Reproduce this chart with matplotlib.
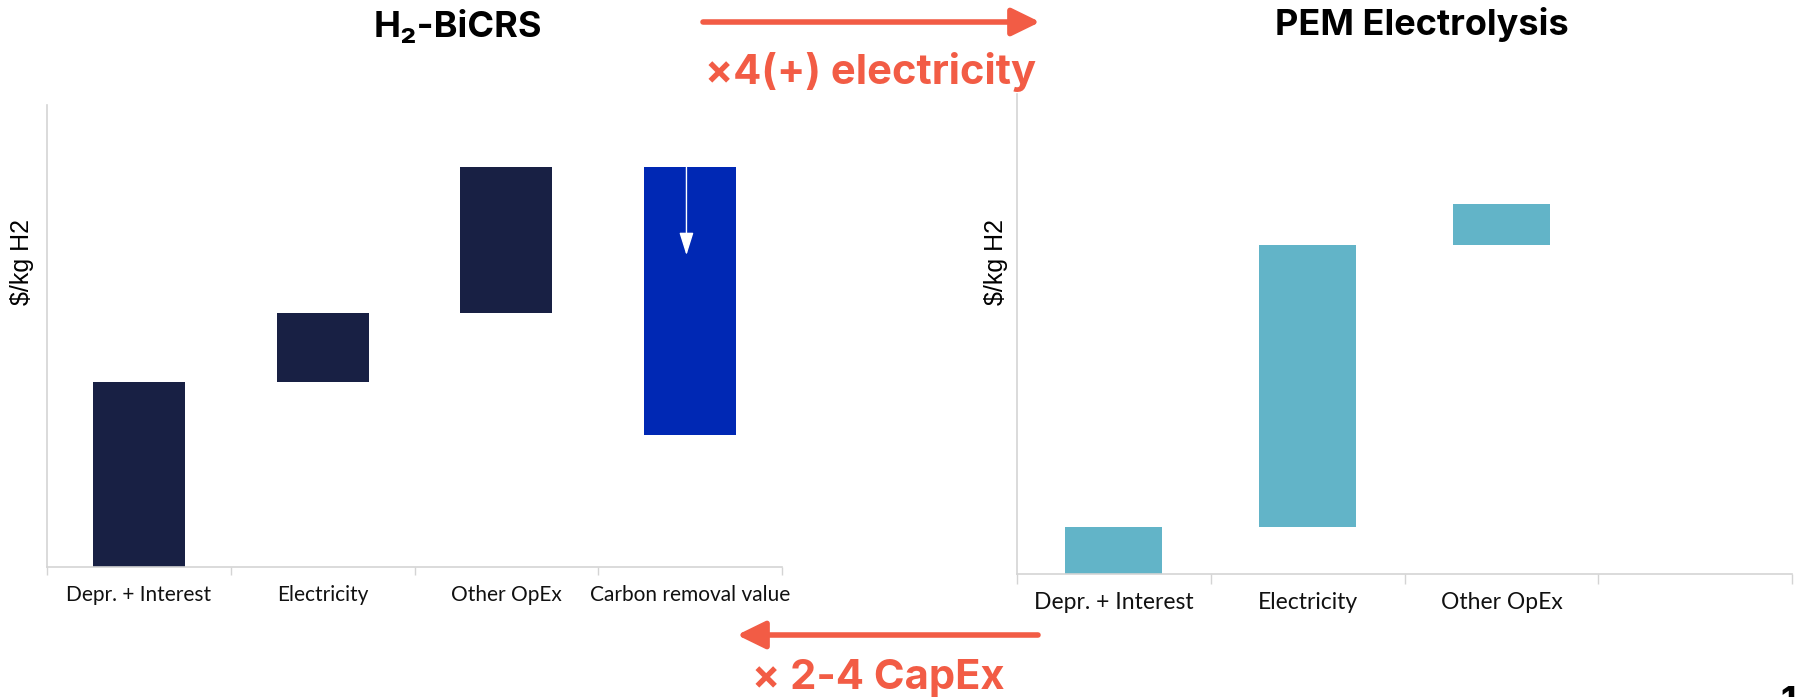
import matplotlib
matplotlib.use("Agg")
import matplotlib.pyplot as plt
import numpy as np

# H2-BiCRS cost build-up (arbitrary $/kg H2 units, axis 0-10)
bicrs_cats = ["Depr. + Interest", "Electricity", "Other OpEx"]
bicrs_vals = [4.0, 1.5, 3.15]
carbon_label = "Carbon removal value"
carbon_val = 5.8
arrow_tip = 6.75

# PEM electrolysis cost build-up
pem_cats = ["Depr. + Interest", "Electricity", "Other OpEx"]
pem_vals = [0.98, 5.88, 0.85]

ylabel = "$/kg H2"
navy = "#182044"
blue = "#0028B4"
teal = "#62B4C8"
red = "#F25C45"
grid_grey = "#D4D4D4"

W, H = 1801, 697
fig = plt.figure(figsize=(W / 100, H / 100), dpi=100)


def rect(x0, y_top, x1, y_bot):
    return [x0 / W, 1 - y_bot / H, (x1 - x0) / W, (y_bot - y_top) / H]


def style_axes(ax, labels, n_slots, fs, tick_len):
    ax.set_xlim(-0.5, n_slots - 0.5)
    ax.set_ylim(0, 10)
    for s in ["top", "right"]:
        ax.spines[s].set_visible(False)
    for s in ["left", "bottom"]:
        ax.spines[s].set_color(grid_grey)
        ax.spines[s].set_linewidth(1.2)
    ax.set_yticks([])
    ax.set_xticks(range(len(labels)))
    ax.set_xticklabels(labels, fontsize=fs, family=["Lato", "DejaVu Sans"], color="#111111")
    ax.tick_params(axis="x", which="major", length=0, pad=13)
    ax.set_xticks(np.arange(-0.5, n_slots), minor=True)
    ax.tick_params(axis="x", which="minor", length=tick_len, width=1.0, color=grid_grey)


# left: H2-BiCRS waterfall
ax1 = fig.add_axes(rect(47, 105, 782, 567))
bottoms = np.concatenate([[0], np.cumsum(bicrs_vals)[:-1]])
ax1.bar(range(len(bicrs_vals)), bicrs_vals, bottom=bottoms, width=0.5, color=navy)
total = sum(bicrs_vals)
ax1.bar(len(bicrs_vals), carbon_val, bottom=total - carbon_val, width=0.5, color=blue)
ax1.annotate("", xy=(len(bicrs_vals) - 0.02, arrow_tip), xytext=(len(bicrs_vals) - 0.02, total),
             arrowprops=dict(arrowstyle="-|>,head_length=0.7,head_width=0.22", color="white",
                             lw=1.0, mutation_scale=20, shrinkA=0, shrinkB=0))
style_axes(ax1, bicrs_cats + [carbon_label], 4, 15, 6)
ax1.set_ylabel(ylabel, fontsize=18, family=["Liberation Sans", "DejaVu Sans"])
ax1.yaxis.set_label_coords(-0.018, 0.66)

# right: PEM electrolysis waterfall
ax2 = fig.add_axes(rect(1017, 94, 1792, 574))
bottoms = np.concatenate([[0], np.cumsum(pem_vals)[:-1]])
ax2.bar(range(len(pem_vals)), pem_vals, bottom=bottoms, width=0.5, color=teal)
style_axes(ax2, pem_cats, 4, 16.5, 7)
ax2.set_ylabel(ylabel, fontsize=18, family=["Liberation Sans", "DejaVu Sans"])
ax2.yaxis.set_label_coords(-0.012, 0.65)

# overlay for titles and comparison arrows (pixel coordinates)
ov = fig.add_axes([0, 0, 1, 1])
ov.set_xlim(0, W)
ov.set_ylim(H, 0)
ov.axis("off")
title_font = ["Inter", "Roboto", "DejaVu Sans"]
ov.text(458, 37, "H\u2082-BiCRS", ha="center", va="baseline", fontsize=26,
        weight="bold", family=title_font)
ov.text(1422, 35, "PEM Electrolysis", ha="center", va="baseline", fontsize=26,
        weight="bold", family=title_font)

arrow_kw = dict(arrowstyle="-|>,head_length=0.45,head_width=0.22", color=red, lw=4,
                mutation_scale=38, shrinkA=0, shrinkB=0)
ov.annotate("", xy=(1040, 22), xytext=(703, 22), arrowprops=arrow_kw)
ov.text(871, 84, "\u00d74(+) electricity", ha="center", va="baseline", fontsize=30,
        weight="bold", color=red, family=title_font)
ov.annotate("", xy=(737, 635), xytext=(1038, 635), arrowprops=arrow_kw)
ov.text(878, 689, "\u00d7 2-4 CapEx", ha="center", va="baseline", fontsize=30,
        weight="bold", color=red, family=title_font)

ov.text(1788, 686, "1", ha="center", va="top", fontsize=26, weight="bold", family=title_font)

fig.savefig("out.png", dpi=100)
